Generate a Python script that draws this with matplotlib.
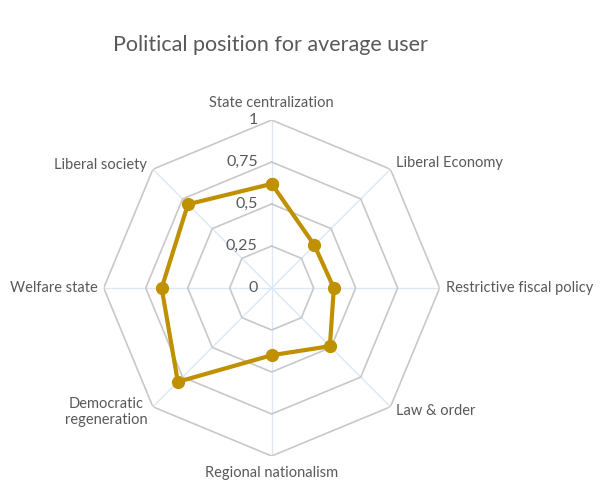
import numpy as np
import matplotlib
matplotlib.use("Agg")
import matplotlib.pyplot as plt

plt.rcParams['font.family'] = ['Lato', 'DejaVu Sans']

categories = ["State centralization", "Liberal Economy", "Restrictive fiscal policy",
              "Law & order", "Regional nationalism", "Democratic\nregeneration",
              "Welfare state", "Liberal society"]
values = [0.62, 0.36, 0.37, 0.49, 0.40, 0.79, 0.655, 0.705]
ticks = [0, 0.25, 0.5, 0.75, 1]
tick_labels = ["0", "0,25", "0,5", "0,75", "1"]
title = "Political position for average user"

text_color = "#595959"
line_color = "#BF9000"
grid_color = "#C8C8C8"
spoke_color = "#DCE8F4"

fig = plt.figure(figsize=(6.0, 4.97), dpi=100)
ax = fig.add_axes([0.1728, 0.0825, 0.56, 0.676], projection='polar')
ax.set_theta_offset(np.pi / 2)
ax.set_theta_direction(-1)
ax.set_ylim(0, 1)
ax.grid(False)
ax.spines['polar'].set_visible(False)
ax.set_xticks([])
ax.set_yticks([])
ax.patch.set_alpha(0)

n = len(categories)
angles = np.linspace(0, 2 * np.pi, n, endpoint=False)
closed = np.concatenate([angles, angles[:1]])

# spokes
for a in angles:
    ax.plot([a, a], [0, 1], color=spoke_color, lw=1.0, zorder=1)
# polygon grid
for t in ticks[1:]:
    ax.plot(closed, [t] * (n + 1), color=grid_color, lw=1.2, zorder=2)

vals = values + values[:1]
ax.plot(closed, vals, color=line_color, lw=3, marker='o', markersize=8.5, zorder=5,
        solid_joinstyle='round')

# radial tick labels
for t, lab in zip(ticks, tick_labels):
    ax.annotate(lab, xy=(0, t), xytext=(-14, 0), textcoords='offset pixels',
                ha='right', va='center', fontsize=11.5, color=text_color, zorder=6)

# category labels
offsets = [(0, 10, 'center', 'bottom'), (6, 6, 'left', 'center'), (6, 0, 'left', 'center'),
           (6, -4, 'left', 'center'), (0, -17, 'center', 'center'), (-5, -5, 'right', 'center'),
           (-6, 0, 'right', 'center'), (-6, 4, 'right', 'center')]
for a, lab, (dx, dy, ha, va) in zip(angles, categories, offsets):
    ax.annotate(lab, xy=(a, 1), xytext=(dx, dy), textcoords='offset pixels',
                ha=ha, va=va, fontsize=10.5, color=text_color, multialignment='center',
                annotation_clip=False)

fig.text(0.45, 1 - 45 / 497, title, ha='center', va='center', fontsize=15.5, color=text_color)

fig.savefig("out.png", dpi=100)
